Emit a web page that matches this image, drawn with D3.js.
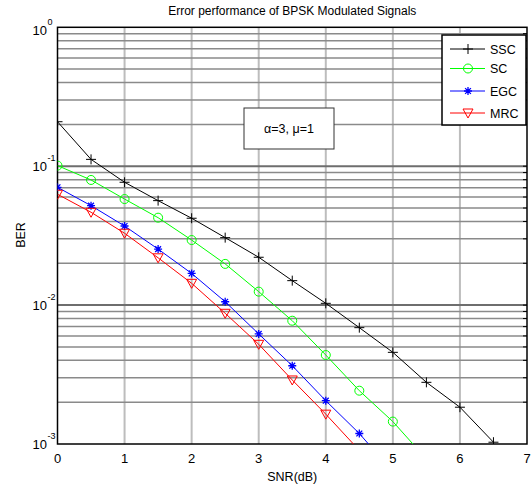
<!DOCTYPE html>
<html>
<head>
<meta charset="utf-8">
<script src="https://cdn.jsdelivr.net/npm/d3@7"></script>
<style>
  body { margin: 0; background: #fff; }
  text { font-family: Arial, "Liberation Sans", sans-serif; fill: #000; }
</style>
</head>
<body>
<svg id="chart"></svg>
<script>
// Chart size
var width = 531;
var height = 488;
var margin = { top: 27.3, right: 4, bottom: 44, left: 57.5 };

// SNR values (dB) for every sample
var snr = [0, 0.5, 1, 1.5, 2, 2.5, 3, 3.5, 4, 4.5, 5, 5.5, 6, 6.5];

// BER values
var sscBer = [0.209, 0.112, 0.0766, 0.0565, 0.0422, 0.0306, 0.0221, 0.0150, 0.0103, 0.00688, 0.00457, 0.00278, 0.00184, 0.00103];
var scBer  = [0.101, 0.0796, 0.058, 0.0426, 0.0294, 0.0198, 0.0125, 0.00772, 0.00437, 0.00242, 0.00145, 0.00078];
var egcBer = [0.0705, 0.052, 0.0371, 0.0253, 0.0169, 0.01057, 0.0062, 0.00366, 0.00205, 0.00119, 0.00063];
var mrcBer = [0.0628, 0.0466, 0.0329, 0.0219, 0.01435, 0.00873, 0.00522, 0.00289, 0.00164, 0.0009];

var seriesNames = ["SSC", "SC", "EGC", "MRC"];
var seriesColors = ["#000000", "#00ff00", "#0000ff", "#ff0000"];
var seriesMarkers = ["plus", "circle", "star", "tri"];
var seriesValues = [sscBer, scBer, egcBer, mrcBer];

var xTicks = [0, 1, 2, 3, 4, 5, 6, 7];
var yDecades = [0, -1, -2, -3];

var plotW = width - margin.left - margin.right;
var plotH = height - margin.top - margin.bottom;

var svg = d3.select("#chart")
    .attr("width", width)
    .attr("height", height);

var x = d3.scaleLinear().domain([0, 7]).range([margin.left, margin.left + plotW]);
var y = d3.scaleLog().domain([1e-3, 1]).range([margin.top + plotH, margin.top]);

svg.append("defs").append("clipPath").attr("id", "plotClip")
    .append("rect")
    .attr("x", margin.left).attr("y", margin.top)
    .attr("width", plotW).attr("height", plotH);

// minor log grid values (1..9 times each decade)
var logGrid = [];
for (let e = -3; e < 0; e++) {
    for (let m = 1; m < 10; m++) {
        logGrid.push(m * Math.pow(10, e));
    }
}

// vertical grid lines
svg.append("g").selectAll("line")
    .data(xTicks.slice(1, -1))
    .enter().append("line")
    .attr("x1", d => x(d)).attr("x2", d => x(d))
    .attr("y1", margin.top).attr("y2", margin.top + plotH)
    .style("stroke", "#bdbdbd")
    .style("stroke-width", 2);

// horizontal grid lines
svg.append("g").selectAll("line")
    .data(logGrid.slice(1))
    .enter().append("line")
    .attr("x1", margin.left).attr("x2", margin.left + plotW)
    .attr("y1", d => y(d)).attr("y2", d => y(d))
    .style("stroke", function (d) {
        var l = Math.log10(d);
        return Math.abs(l - Math.round(l)) < 1e-9 ? "#6e6e6e" : "#8a8a8a";
    })
    .style("stroke-width", function (d) {
        var l = Math.log10(d);
        return Math.abs(l - Math.round(l)) < 1e-9 ? 2 : 1.5;
    });

// right side inward minor ticks
svg.append("g").selectAll("line")
    .data(logGrid.slice(1))
    .enter().append("line")
    .attr("x1", margin.left + plotW - 4).attr("x2", margin.left + plotW)
    .attr("y1", d => y(d)).attr("y2", d => y(d))
    .style("stroke", "#000")
    .style("stroke-width", 1);

// axes box
svg.append("rect")
    .attr("x", margin.left).attr("y", margin.top)
    .attr("width", plotW).attr("height", plotH)
    .style("fill", "none")
    .style("stroke", "#000")
    .style("stroke-width", 1.5);

// marker drawing
function drawMarker(g, type, cx, cy, color) {
    if (type === "plus") {
        g.append("path")
            .attr("d", `M${cx - 5},${cy}H${cx + 5}M${cx},${cy - 5}V${cy + 5}`)
            .style("stroke", color).style("stroke-width", 1).style("fill", "none");
    } else if (type === "circle") {
        g.append("circle")
            .attr("cx", cx).attr("cy", cy).attr("r", 4.5)
            .style("stroke", color).style("stroke-width", 1).style("fill", "none");
    } else if (type === "star") {
        var r = 4, s = 2.9;
        g.append("path")
            .attr("d", `M${cx - r},${cy}H${cx + r}M${cx},${cy - r}V${cy + r}` +
                `M${cx - s},${cy - s}L${cx + s},${cy + s}M${cx - s},${cy + s}L${cx + s},${cy - s}`)
            .style("stroke", color).style("stroke-width", 1.3).style("fill", "none");
    } else if (type === "tri") {
        g.append("path")
            .attr("d", `M${cx - 5},${cy - 4}L${cx + 5},${cy - 4}L${cx},${cy + 5}Z`)
            .style("stroke", color).style("stroke-width", 1).style("fill", "none");
    }
}

// series lines and markers
var plot = svg.append("g").attr("clip-path", "url(#plotClip)");
var line = d3.line()
    .x(d => x(d[0]))
    .y(d => y(d[1]));

seriesValues.forEach(function (vals, i) {
    var pts = vals.map((v, j) => [snr[j], v]);
    plot.append("path")
        .datum(pts)
        .attr("d", line)
        .style("fill", "none")
        .style("stroke", seriesColors[i])
        .style("stroke-width", 1);
    var mg = plot.append("g");
    pts.forEach(function (p) {
        if (p[1] >= 1e-3) drawMarker(mg, seriesMarkers[i], x(p[0]), y(p[1]), seriesColors[i]);
    });
});

// x tick labels
svg.append("g").selectAll("text")
    .data(xTicks)
    .enter().append("text")
    .attr("x", d => x(d))
    .attr("y", margin.top + plotH + 19)
    .attr("text-anchor", "middle")
    .style("font-size", "13px")
    .text(d => d);

// y tick labels 10^n
var yl = svg.append("g").selectAll("g")
    .data(yDecades)
    .enter().append("g");
yl.append("text")
    .attr("x", 47)
    .attr("y", d => y(Math.pow(10, d)) + (d === 0 ? 8 : 5))
    .attr("text-anchor", "end")
    .style("font-size", "13px")
    .text("10");
yl.append("text")
    .attr("x", 47.5)
    .attr("y", d => y(Math.pow(10, d)) + (d === 0 ? -2 : -5))
    .style("font-size", "9px")
    .text(d => d === 0 ? "0" : String(d));

// axis titles
svg.append("text")
    .attr("x", x(3.5))
    .attr("y", 481)
    .attr("text-anchor", "middle")
    .style("font-size", "12.5px")
    .text("SNR(dB)");

svg.append("text")
    .attr("transform", "translate(25,235) rotate(-90)")
    .attr("text-anchor", "middle")
    .style("font-size", "12.5px")
    .text("BER");

svg.append("text")
    .attr("x", x(3.5))
    .attr("y", 15)
    .attr("text-anchor", "middle")
    .style("font-size", "12px")
    .text("Error performance of BPSK Modulated Signals");

// annotation box
svg.append("rect")
    .attr("x", 244).attr("y", 108)
    .attr("width", 90).attr("height", 41)
    .style("fill", "#fff")
    .style("stroke", "#333")
    .style("stroke-width", 1);
svg.append("text")
    .attr("x", 289).attr("y", 133)
    .attr("text-anchor", "middle")
    .style("font-size", "12.5px")
    .text("\u03b1=3, \u03bc=1");

// legend
var legend = svg.append("g");
legend.append("rect")
    .attr("x", 442).attr("y", 35)
    .attr("width", 84).attr("height", 90)
    .style("fill", "#fff")
    .style("stroke", "#000")
    .style("stroke-width", 1.5);
var legendY = [49, 68.5, 91, 113];
seriesNames.forEach(function (name, i) {
    legend.append("line")
        .attr("x1", 450).attr("x2", 485)
        .attr("y1", legendY[i]).attr("y2", legendY[i])
        .style("stroke", seriesColors[i])
        .style("stroke-width", 1);
    drawMarker(legend, seriesMarkers[i], 468, legendY[i], seriesColors[i]);
    legend.append("text")
        .attr("x", 490)
        .attr("y", legendY[i] + 4.5)
        .style("font-size", "12.5px")
        .text(name);
});
</script>
</body>
</html>
